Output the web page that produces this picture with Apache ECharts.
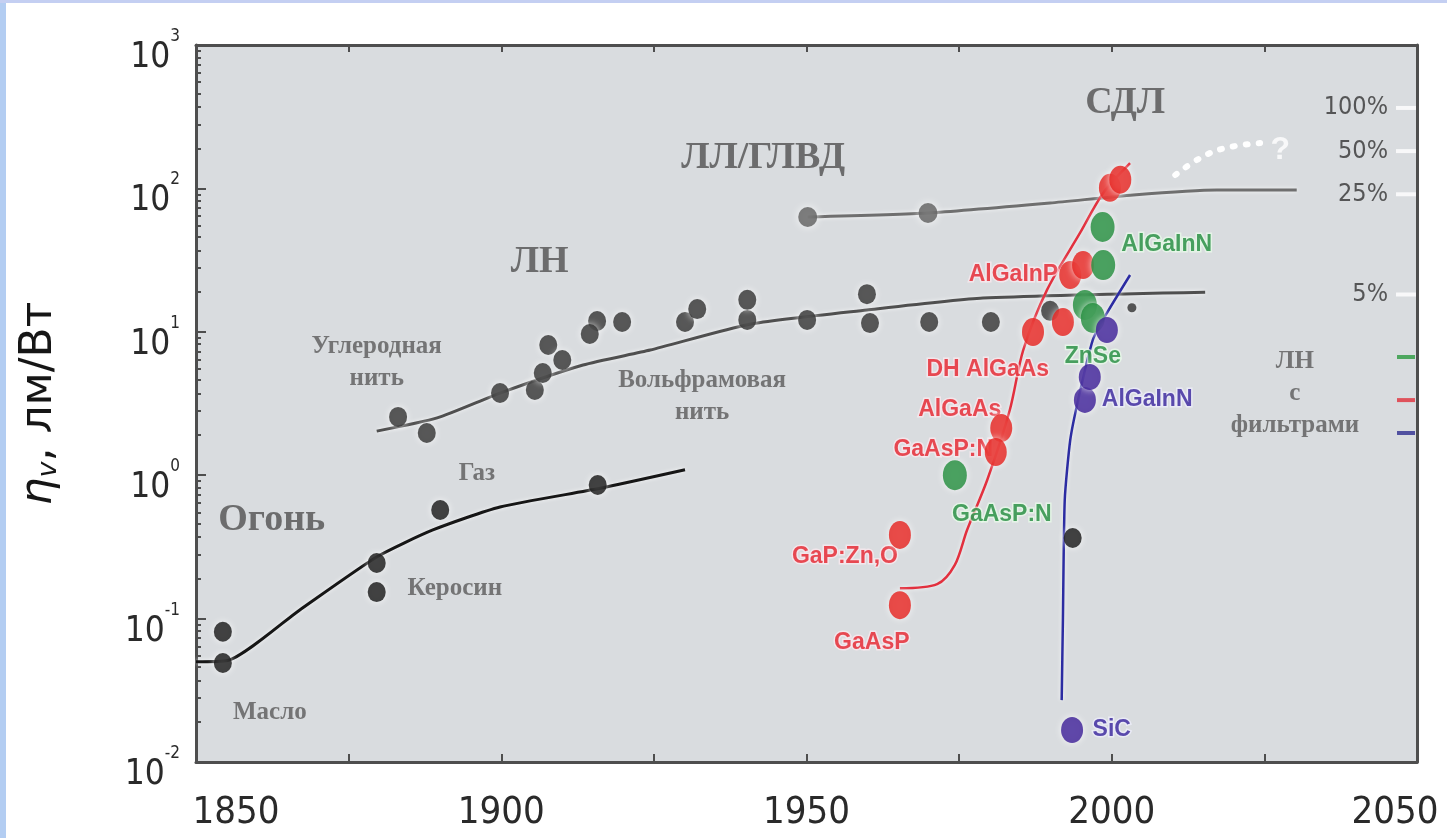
<!DOCTYPE html>
<html>
<head>
<meta charset="utf-8">
<script src="https://cdn.jsdelivr.net/npm/echarts@6/dist/echarts.min.js"></script>
<style>
  html, body { margin: 0; padding: 0; background: #ffffff; }
  #chart { width: 1447px; height: 838px; }
</style>
</head>
<body>
<div id="chart"></div>
<script>
// ---- axes ----
const yearMin = 1850, yearMax = 2050;
const valueMin = 0.01, valueMax = 1000;

// ---- flame / kerosene / gas (black) ----
const fireCurve = [[1850, 0.050], [1855.2, 0.051], [1867, 0.115], [1879.6, 0.269], [1888.8, 0.415], [1899.8, 0.60], [1916.2, 0.81], [1930.1, 1.09]];
const fireDots = [[1854.4, 0.081], [1854.4, 0.049], [1879.6, 0.244], [1879.6, 0.153], [1890, 0.572], [1915.8, 0.855], [1993.6, 0.365]];

// ---- incandescent lamps (ЛН) ----
const lnCurve = [[1879.6, 2.03], [1889.5, 2.51], [1899.8, 3.74], [1913.4, 5.87], [1924.4, 7.46], [1940.7, 11.3], [1959.9, 14.2], [1978.9, 17.2], [2015.3, 18.9]];
const lnDots = [[1883.1, 2.55], [1887.8, 1.97], [1899.8, 3.74], [1905.5, 3.93], [1906.8, 5.16], [1907.7, 8.09], [1910, 6.36], [1915.7, 11.9], [1914.5, 9.65], [1919.8, 11.7], [1930.1, 11.7], [1932.1, 14.4], [1940.3, 12.1], [1940.3, 16.7], [1950.1, 12.1], [1959.9, 18.3], [1960.4, 11.5], [1970.1, 11.7], [1980.2, 11.7], [1989.9, 14.0]];
const lnSmallDots = [[2003.3, 14.7]];

// ---- fluorescent / HID lamps (ЛЛ/ГЛВД) ----
const llCurve = [[1950.2, 63.2], [1969.9, 67.4], [1989.9, 79.1], [2003.5, 90], [2017.2, 97.5], [2030.3, 97.5]];
const llDots = [[1950.2, 63.2], [1969.9, 67.4]];

// ---- LEDs (СДЛ) ----
const redCurve = [[1965.3, 0.163], [1971.4, 0.174], [1974.3, 0.237], [1976.3, 0.415], [1979.6, 0.926], [1983.3, 2.85], [1985.5, 7.46], [1989.4, 19.6], [1994.8, 48.9], [1998.6, 92.9], [2003, 150]];
const redDots = [[1965.3, 0.124], [1965.3, 0.383], [1981.9, 2.13], [1981.0, 1.45], [1987.1, 9.97], [1992.0, 11.7], [1993.2, 24.9], [1995.3, 29.2], [1999.7, 101], [2001.4, 115]];
const greenDots = [[1974.3, 1.0], [1995.6, 15.4], [1996.9, 12.5], [1998.6, 29.2], [1998.5, 53.8]];
const blueCurve = [[1991.8, 0.027], [1992.0, 0.0977], [1992.3, 0.671], [1993.2, 1.76], [1994.5, 3.35], [1996.9, 8.77], [1999.2, 13.5], [2003, 24.9]];
const blueDots = [[1993.5, 0.0167], [1995.6, 3.35], [1996.4, 4.84], [1999.2, 10.3]];
const forecast = [[2010.4, 124], [2014.5, 163], [2018.5, 191], [2024.3, 207]];

// ---- efficiency levels at the right edge ----
const percentNames = ['100%', '50%', '25%', '5%'];
const percentLevels = [364, 182, 91, 18.2];
const filterLevels = [6.67, 3.34, 1.97];
const filterColors = ['#2a9a3e', '#e0303a', '#2e2e90'];

// ---- annotations: [text, year, value] ----
const bigNotes = [['Огонь', 1862.4, 0.487], ['ЛН', 1906.3, 30.7], ['ЛЛ/ГЛВД', 1942.9, 163], ['СДЛ', 2002.2, 394]];
const smallNotes = [['Масло', 1862.1, 0.022], ['Керосин', 1892.4, 0.163], ['Газ', 1896, 1.035], ['Углеродная\nнить', 1879.6, 6.06], ['Вольфрамовая\nнить', 1932.9, 3.51], ['ЛН\nс\nфильтрами', 2030, 3.74]];
const redNotes = [['GaAsP', 1960.7, 0.0676], ['GaP:Zn,O', 1956.3, 0.269], ['GaAsP:N', 1972.4, 1.50], ['AlGaAs', 1975.1, 2.85], ['DH AlGaAs', 1979.7, 5.42], ['AlGaInP', 1983.9, 24.9]];
const greenNotes = [['AlGaInN', 2009, 40.3], ['ZnSe', 1996.9, 6.67], ['GaAsP:N', 1982, 0.527]];
const blueNotes = [['AlGaInN', 2005.8, 3.35], ['SiC', 2000, 0.0167]];
const questionNote = [['?', 2027.6, 185]];

const AXIS = '#4e4e4e';
const NARROW = "'DejaVu Sans Condensed', 'Liberation Sans Narrow', sans-serif";
const SANS = "'Liberation Sans', Arial, sans-serif";
const SERIF = "'Liberation Serif', 'DejaVu Serif', serif";
const halo = { shadowBlur: 7, shadowColor: 'rgba(255,255,255,0.95)' };

function notes(list) {
  return list.map(n => ({ name: n[0], value: [n[1], n[2]] }));
}
function noteSeries(list, style) {
  return {
    type: 'scatter', symbolSize: 0, z: 3, silent: true,
    data: notes(list),
    label: Object.assign({ show: true, position: 'inside', formatter: '{b}' }, style)
  };
}
function dotSeries(data, color, size, extra) {
  return Object.assign({
    type: 'scatter', z: 5, data: data, symbolSize: size,
    itemStyle: Object.assign({ color: color }, halo)
  }, extra || {});
}
function lineSeries(data, color, width, extra) {
  return Object.assign({
    type: 'line', z: 2, data: data, showSymbol: false, smooth: 0.2,
    lineStyle: { color: color, width: width, shadowBlur: 4, shadowColor: 'rgba(255,255,255,0.8)' }
  }, extra || {});
}

const chart = echarts.init(document.getElementById('chart'));
chart.setOption({
  animation: false,
  backgroundColor: '#ffffff',
  graphic: [
    { type: 'rect', left: 0, top: 0, shape: { width: 6, height: 838 }, style: { fill: '#b3cdf2' }, silent: true },
    { type: 'rect', left: 0, top: 0, shape: { width: 1447, height: 3 }, style: { fill: '#c4cff2' }, silent: true }
  ],
  grid: { left: 196, top: 45, right: 30, bottom: 76, show: true, backgroundColor: '#d9dcdf', borderWidth: 0 },
  xAxis: [
    {
      type: 'value', min: yearMin, max: yearMax, interval: 25, position: 'bottom',
      axisLine: { show: true, onZero: false, lineStyle: { color: AXIS, width: 3 } },
      axisTick: { show: true, inside: true, length: 8, lineStyle: { color: AXIS, width: 2 } },
      splitLine: { show: false },
      axisLabel: {
        margin: 32, color: '#2a2a2a', fontFamily: NARROW, fontSize: 38,
        formatter: v => v === yearMin ? '{first|' + v + '}' : v === yearMax ? '{last|' + v + '}' : (v % 50 === 0 ? String(v) : ''),
        rich: {
          first: { fontFamily: NARROW, fontSize: 38, color: '#2a2a2a', padding: [0, 0, 0, 80] },
          last: { fontFamily: NARROW, fontSize: 38, color: '#2a2a2a', padding: [0, 44, 0, 0] }
        }
      }
    },
    {
      type: 'value', min: yearMin, max: yearMax, interval: 25, position: 'top',
      axisLine: { show: true, onZero: false, lineStyle: { color: AXIS, width: 3 } },
      axisTick: { show: true, inside: true, length: 7, lineStyle: { color: AXIS, width: 2 } },
      axisLabel: { show: false }, splitLine: { show: false }
    }
  ],
  yAxis: [
    {
      type: 'log', logBase: 10, min: valueMin, max: valueMax, position: 'left',
      axisLine: { show: true, onZero: false, lineStyle: { color: AXIS, width: 3 } },
      axisTick: { show: true, inside: true, length: 10, lineStyle: { color: AXIS, width: 2 } },
      minorTick: { show: true, splitNumber: 10, length: 5, lineStyle: { color: AXIS, width: 2 } },
      splitLine: { show: false },
      axisLabel: {
        margin: 16, color: '#2a2a2a',
        formatter: v => '{b|10}{e|' + Math.round(Math.log10(v)) + '}',
        rich: {
          b: { fontFamily: NARROW, fontSize: 35, color: '#2a2a2a', lineHeight: 40, padding: [26, 0, 0, 0] },
          e: { fontFamily: NARROW, fontSize: 17, color: '#2a2a2a', lineHeight: 18, verticalAlign: 'top', padding: [3, 0, 0, 0] }
        }
      },
      name: '{i|η}{s|v}{n|, лм/Вт}',
      nameLocation: 'middle', nameGap: 134,
      nameTextStyle: {
        rich: {
          i: { fontFamily: "'DejaVu Sans', sans-serif", fontSize: 44, fontStyle: 'italic', color: '#161616' },
          s: { fontFamily: "'DejaVu Sans', sans-serif", fontSize: 27, fontStyle: 'italic', color: '#161616', verticalAlign: 'bottom', padding: [14, 0, 0, 0] },
          n: { fontFamily: "'DejaVu Sans', sans-serif", fontSize: 44, color: '#161616' }
        }
      }
    },
    {
      type: 'log', logBase: 10, min: valueMin, max: valueMax, position: 'right',
      axisLine: { show: true, onZero: false, lineStyle: { color: AXIS, width: 3 } },
      axisTick: { show: false }, axisLabel: { show: false }, splitLine: { show: false }
    }
  ],
  series: [
    lineSeries(fireCurve, '#161616', 3),
    lineSeries(lnCurve, '#4f4f4f', 3),
    lineSeries(llCurve, '#6f6f6f', 3),
    lineSeries(redCurve, '#e2303e', 2.5, { smooth: 0.3 }),
    lineSeries(blueCurve, '#2c2ca2', 2.5),
    {
      type: 'line', z: 2, data: forecast, showSymbol: false, smooth: 0.4,
      lineStyle: { color: '#ffffff', width: 6, type: [2, 11], cap: 'round' }
    },
    noteSeries(bigNotes, { fontFamily: SERIF, fontSize: 38, fontWeight: 'bold', color: '#505050' }),
    noteSeries(smallNotes, { fontFamily: SERIF, fontSize: 25, fontWeight: 'bold', color: '#5a5a5a', lineHeight: 32 }),
    noteSeries(redNotes, { fontFamily: SANS, fontSize: 23, fontWeight: 'bold', color: '#e4202a', textBorderColor: 'rgba(255,235,240,0.85)', textBorderWidth: 3 }),
    noteSeries(greenNotes, { fontFamily: SANS, fontSize: 23, fontWeight: 'bold', color: '#1f8a3c', textBorderColor: 'rgba(235,255,235,0.85)', textBorderWidth: 3 }),
    noteSeries(blueNotes, { fontFamily: SANS, fontSize: 23, fontWeight: 'bold', color: '#34209a', textBorderColor: 'rgba(240,240,255,0.85)', textBorderWidth: 3 }),
    noteSeries(questionNote, { fontFamily: SANS, fontSize: 32, fontWeight: 'bold', color: '#ffffff' }),
    dotSeries(fireDots, '#141414', [18, 20]),
    dotSeries(lnDots, '#2f2f2f', [18, 20]),
    dotSeries(lnSmallDots, '#2f2f2f', 9),
    dotSeries(llDots, '#5e5e5e', [19, 20], { itemStyle: { color: '#5e5e5e', shadowBlur: 8, shadowColor: '#ffffff' } }),
    dotSeries(redDots, '#e51f1c', [22, 28]),
    dotSeries(greenDots, '#1f8b3a', [24, 30]),
    dotSeries(blueDots, '#3a1c95', [22, 26]),
    {
      type: 'scatter', z: 4, symbol: 'rect', symbolSize: [20, 4],
      data: percentLevels.map((v, i) => ({ name: percentNames[i], value: [2048.2, v] })),
      itemStyle: { color: '#ffffff' },
      label: { show: true, position: 'left', distance: 8, formatter: '{b}', fontFamily: NARROW, fontSize: 25, color: '#333' }
    },
    {
      type: 'scatter', z: 4, symbol: 'rect', symbolSize: [18, 4],
      data: filterLevels.map((v, i) => ({ value: [2048.2, v], itemStyle: { color: filterColors[i] } }))
    }
  ]
});
</script>
</body>
</html>
